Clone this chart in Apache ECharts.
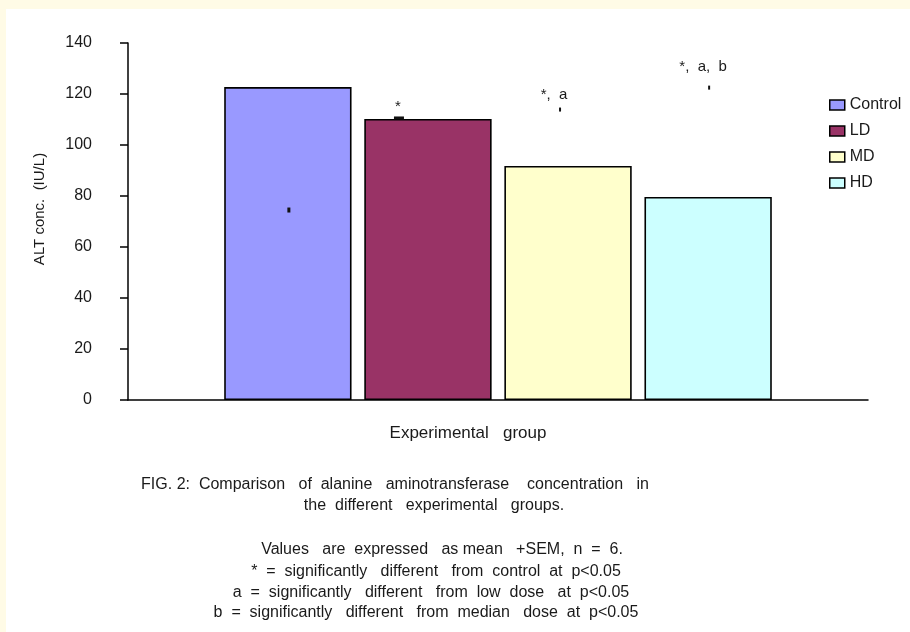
<!DOCTYPE html>
<html>
<head>
<meta charset="utf-8">
<script src="https://cdn.jsdelivr.net/npm/echarts@6/dist/echarts.min.js"></script>
<style>
html,body{margin:0;padding:0;background:#fffbe6;}
#wrap{position:absolute;left:6px;top:9px;right:0;bottom:0;background:#ffffff;}
#chart{position:absolute;left:-6px;top:-9px;width:910px;height:632px;}
</style>
</head>
<body>
<div id="wrap"><div id="chart"></div></div>
<script>
// ---- data ----
const groups = ['Control', 'LD', 'MD', 'HD'];
const altMeans = [122.7, 110.2, 91.8, 79.6];
const errMarks = [74.5, 110.6, 113.9, 122.5];
const annotTexts = ['', '*', '*,  a', '*,  a,  b'];
const annotLevels = [0, 114.9, 119.6, 130.6];
const yTicks = [0, 20, 40, 60, 80, 100, 120, 140];
const categoryName = 'Experimental   group';
const yAxisName = 'ALT conc.  (IU/L)';
const captionLines = [
  'FIG. 2:  Comparison   of  alanine   aminotransferase    concentration   in',
  'the  different   experimental   groups.',
  'Values   are  expressed   as mean   +SEM,  n  =  6.',
  '*  =  significantly   different   from  control  at  p<0.05',
  'a  =  significantly   different   from  low  dose   at  p<0.05',
  'b  =  significantly   different   from  median   dose  at  p<0.05'
];

// ---- styles ----
const colors = ['#9999ff', '#993366', '#ffffcc', '#ccffff'];
const markDx = [1, -29, -8, 1];
const markSize = [[3, 5], [10, 3], [2, 4], [2, 4]];
const annotDx = [0, -30, -14, -5];
const captionX = [395, 434, 442, 436, 431, 426];
const captionY = [485, 506, 550, 572, 593, 613];
const FONT = 'Liberation Sans, Arial, sans-serif';
const TXT = '#1a1a1a';

const chart = echarts.init(document.getElementById('chart'), null, {renderer: 'canvas'});

const barSeries = groups.map((g, i) => ({
  name: g,
  type: 'bar',
  data: [altMeans[i]],
  barGap: '10%',
  barCategoryGap: '26%',
  itemStyle: {color: colors[i], borderColor: '#000', borderWidth: 1.6},
  emphasis: {disabled: true},
  z: 2
}));

const overlay = {
  type: 'custom',
  data: groups.map((g, i) => [i, errMarks[i], annotLevels[i]]),
  z: 5,
  silent: true,
  renderItem: function (params, api) {
    const i = api.value(0);
    const catW = api.size([1, 0])[0];
    const cx = api.coord([0, 0])[0];
    const barW = catW * 0.74 / 4.3;
    const bx = cx + (i - 1.5) * barW * 1.1;
    const mp = api.coord([0, api.value(1)]);
    const ap = api.coord([0, api.value(2)]);
    const sz = markSize[i];
    const children = [{
      type: 'rect',
      shape: {x: bx + markDx[i] - sz[0] / 2, y: mp[1] - sz[1] / 2, width: sz[0], height: sz[1]},
      style: {fill: '#111'}
    }];
    if (annotTexts[i]) {
      children.push({
        type: 'text',
        style: {
          text: annotTexts[i], x: bx + annotDx[i], y: ap[1],
          align: 'center', verticalAlign: 'middle',
          font: '15px ' + FONT, fill: TXT
        }
      });
    }
    return {type: 'group', children: children};
  }
};

const graphics = captionLines.map((t, k) => ({
  type: 'text',
  style: {text: t, x: captionX[k], y: captionY[k], align: 'center', verticalAlign: 'middle', font: '16px ' + FONT, fill: TXT}
}));
graphics.push({
  type: 'text',
  style: {text: categoryName, x: 468, y: 433, align: 'center', verticalAlign: 'middle', font: '17px ' + FONT, fill: TXT}
});
graphics.push({
  type: 'text', x: 40, y: 209, rotation: Math.PI / 2,
  style: {text: yAxisName, x: 0, y: 0, align: 'center', verticalAlign: 'middle', font: '15px ' + FONT, fill: TXT}
});

chart.setOption({
  backgroundColor: 'transparent',
  animation: false,
  grid: {left: 128, right: 42, top: 43, bottom: 232, containLabel: false},
  legend: {
    orient: 'vertical', left: 824, top: 92,
    data: groups, icon: 'rect', itemWidth: 15, itemHeight: 10, itemGap: 10,
    itemTextGap: 8,
    itemStyle: {borderColor: '#000', borderWidth: 1.5},
    textStyle: {fontFamily: FONT, fontSize: 16, color: TXT},
    selectedMode: false
  },
  xAxis: {
    type: 'category', data: [categoryName],
    axisLine: {lineStyle: {color: '#000', width: 1.5}},
    axisTick: {show: false}, axisLabel: {show: false}, splitLine: {show: false}
  },
  yAxis: {
    type: 'value', min: yTicks[0], max: yTicks[yTicks.length - 1], interval: yTicks[1] - yTicks[0],
    axisLine: {show: true, lineStyle: {color: '#000', width: 1.5}},
    axisTick: {show: true, inside: false, length: 8, lineStyle: {color: '#000', width: 1.5}},
    axisLabel: {margin: 36, fontFamily: FONT, fontSize: 16, color: TXT},
    splitLine: {show: false}
  },
  series: barSeries.concat([overlay]),
  graphic: graphics
});
</script>
</body>
</html>
